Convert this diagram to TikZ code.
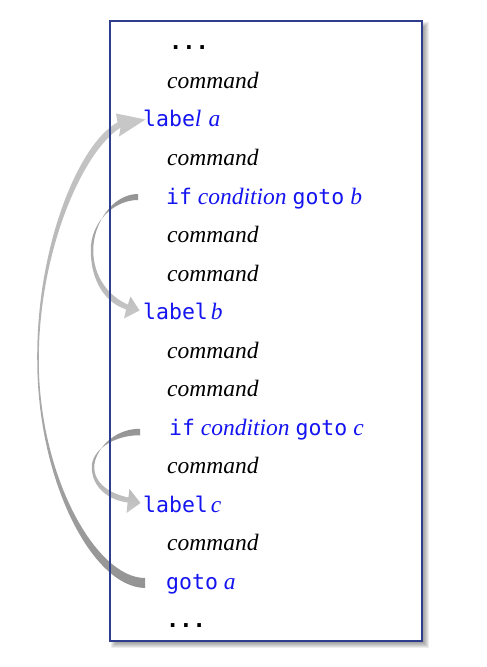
\documentclass[tikz,border=0pt]{standalone}
\usepackage{fontspec}
\setmainfont{Liberation Serif}
\newfontfamily\codefont{DejaVu Sans Mono}
\definecolor{kwblue}{RGB}{20,20,240}
\definecolor{framecol}{RGB}{47,62,140}
\definecolor{arrlight}{RGB}{200,200,200}
\definecolor{arrdark}{RGB}{148,148,148}
\newcommand\kw[1]{{\codefont\upshape\fontsize{21.5bp}{21.5bp}\selectfont\color{kwblue}#1}}
\newcommand\vr[1]{{\itshape\color{kwblue}#1}}
\newcommand\codedots{{\codefont\upshape\bfseries\fontsize{22bp}{22bp}\selectfont ...}}
\tikzset{
  codeline/.style={anchor=base west, inner sep=0pt, font=\fontsize{23.5bp}{23.5bp}\selectfont\itshape},
  uparrow/.style={draw=none, top color=arrlight, bottom color=arrdark},
  downarrow/.style={draw=none, top color=arrdark, bottom color=arrlight},
  framebox/.style={draw=framecol, line width=1.2bp}
}
\begin{document}
\begin{tikzpicture}[x=1bp,y=-1bp]
\useasboundingbox (0,0) rectangle (487,667);
% shadow
\foreach \k in {0,...,5}
  \fill[black,opacity=0.07] (111+\k,22+\k) rectangle (429-\k,648-\k);
\fill[white] (110,21) rectangle (422,641);
% arrow: goto a -> label a
\shade[uparrow] (145,588) .. controls (92,587) and (37.25,480) .. (37.25,360)
  .. controls (36.2,248) and (78,144) .. (117.5,122.4)
  -- (116,113.5) -- (145.5,119.5) -- (119,136.5) -- (120.5,127.6)
  .. controls (82,152) and (38.75,252) .. (38.75,360)
  .. controls (38.75,476) and (96,578) .. (145,578) -- cycle;
% arrow: if ... goto b -> label b
\shade[downarrow] (138,200) .. controls (114,200) and (90.75,222) .. (90.75,250)
  .. controls (90.75,282) and (106,303) .. (126.1,309.4)
  -- (124,318.5) -- (139.5,310.5) -- (130.5,296.5) -- (127.9,304.6)
  .. controls (110,297) and (93.25,278) .. (93.25,250)
  .. controls (93.25,223) and (113,194) .. (138,194) -- cycle;
% arrow: if ... goto c -> label c
\shade[downarrow] (140,435.25) .. controls (114,435) and (91.75,450) .. (91.75,467)
  .. controls (91.75,487) and (108,500) .. (127.6,502.5)
  -- (126.5,513) -- (140.5,503) -- (129.5,489) -- (128.4,497.5)
  .. controls (111,494) and (94.25,484) .. (94.25,467)
  .. controls (94.25,452) and (112,428.75) .. (140,428.75) -- cycle;
\draw[framebox] (110,21) rectangle (422,641);
% code lines
\node[codeline] (d1) at (169,50) {\codedots};
\node[codeline] (c1) at (167,88.5) {command};
\node[codeline] (la) at (143,127) {\kw{labe}\vr{l}\hspace{7bp}\vr{a}};
\node[codeline] (c2) at (167,165.5) {command};
\node[codeline] (ib) at (166,204) {\kw{if} \vr{condition} \kw{goto} \vr{b}};
\node[codeline] (c3) at (167,242.5) {command};
\node[codeline] (c4) at (167,281) {command};
\node[codeline] (lb) at (143,319.5) {\kw{label}\hspace{3bp}\vr{b}};
\node[codeline] (c5) at (167,358) {command};
\node[codeline] (c6) at (167,396.5) {command};
\node[codeline] (ic) at (169,435) {\kw{if} \vr{condition} \kw{goto} \vr{c}};
\node[codeline] (c7) at (167,473.5) {command};
\node[codeline] (lc) at (143,512) {\kw{label}\hspace{3bp}\vr{c}};
\node[codeline] (c8) at (167,550.5) {command};
\node[codeline] (ga) at (166,589) {\kw{goto} \vr{a}};
\node[codeline] (d2) at (166,627.5) {\codedots};
\end{tikzpicture}
\end{document}
